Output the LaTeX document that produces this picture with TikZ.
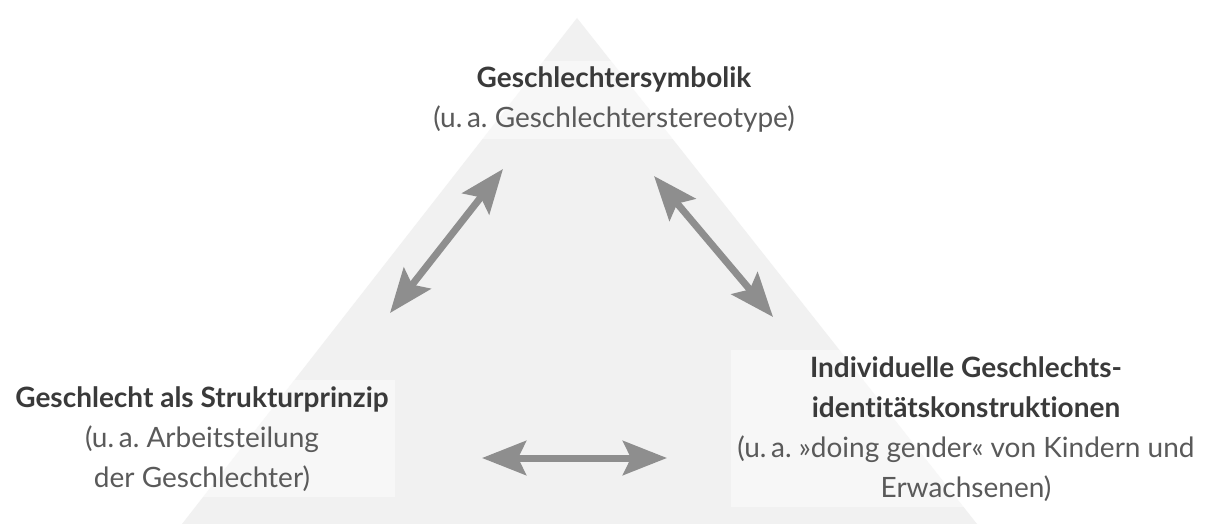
\documentclass[tikz,border=0pt]{standalone}
\usepackage{fontspec}
\setmainfont{Lato}[Ligatures=NoCommon]
\usetikzlibrary{arrows.meta}
\frenchspacing
\definecolor{trifill}{HTML}{F1F1F1}
\definecolor{arrowgray}{HTML}{8E8E8E}
\definecolor{titlegray}{HTML}{3A3A3A}
\definecolor{subgray}{HTML}{5A5A5A}
\newcommand{\ttl}[1]{\textcolor{titlegray}{\bfseries #1}}
\begin{document}
\begin{tikzpicture}[x=1pt,y=-1pt,
  lbl/.style={align=center, fill=white, fill opacity=0.45, text opacity=1,
    text=subgray, inner sep=6pt, font=\fontsize{28}{40}\selectfont},
  twoway/.style={draw=arrowgray, line width=7pt, {Stealth[length=44pt,width=34pt,inset=8pt]}-{Stealth[length=44pt,width=34pt,inset=8pt]}}]
\useasboundingbox (0,0) rectangle (1222,524);
\fill[white] (0,0) rectangle (1222,524);
\fill[trifill] (577,18) -- (977,524) -- (182,524) -- cycle;
\node[lbl, anchor=base] (sym) at (614,128)
  {\ttl{Geschlechtersymbolik}\\(u.\,a. Geschlechterstereotype)};
\node[lbl, anchor=base] (struk) at (202,487)
  {\ttl{Geschlecht als Strukturprinzip}\\(u.\,a. Arbeitsteilung\\der Geschlechter)};
\node[lbl, anchor=base] (ident) at (966,497)
  {\ttl{Individuelle Geschlechts-}\\\ttl{identitätskonstruktionen}\\(u.\,a. »doing gender« von Kindern und\\Erwachsenen)};
\coordinate (l1) at (503,169);
\coordinate (l2) at (390,313);
\coordinate (r1) at (654,176);
\coordinate (r2) at (773,317);
\coordinate (h1) at (482,458);
\coordinate (h2) at (667,458);
\draw[twoway] (l1) -- (l2);
\draw[twoway] (r1) -- (r2);
\draw[twoway] (h1) -- (h2);
\end{tikzpicture}
\end{document}
